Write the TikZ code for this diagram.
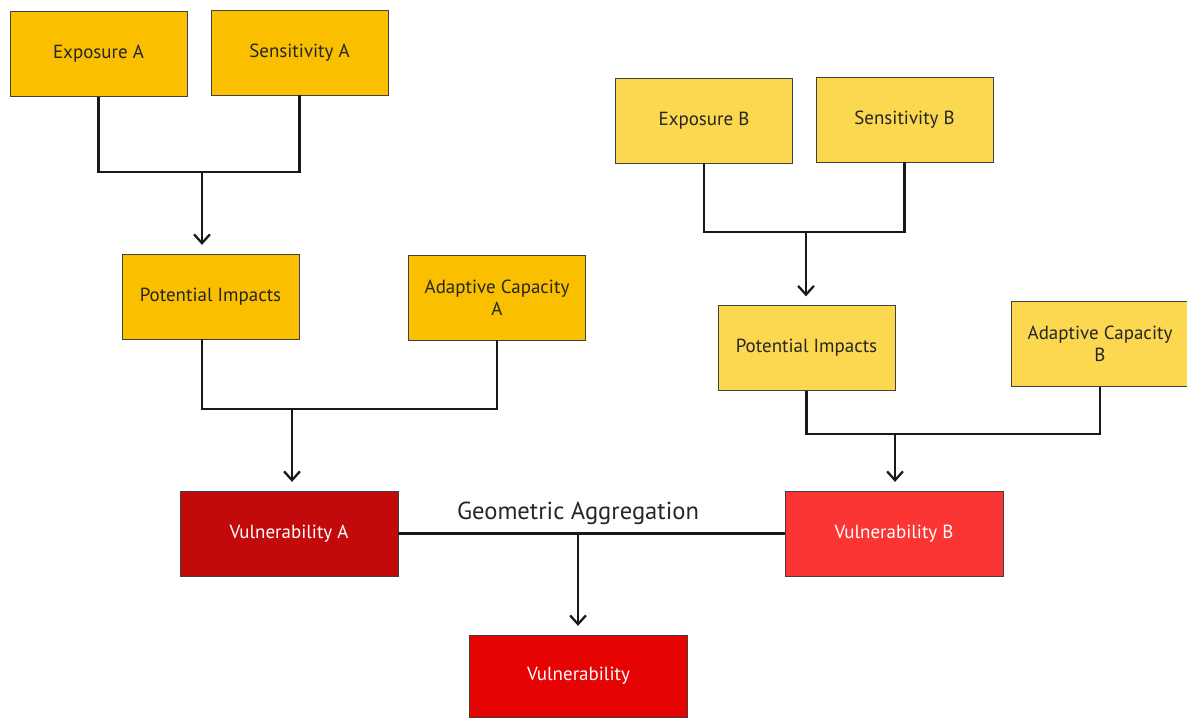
\documentclass[tikz,border=0pt]{standalone}
\usepackage{fontspec}
\setmainfont{PT Sans}
\usepackage{tikz}
\usetikzlibrary{arrows.meta}

\definecolor{ambA}{HTML}{FAC000}
\definecolor{ambB}{HTML}{FBD850}
\definecolor{redA}{HTML}{C30A0A}
\definecolor{redB}{HTML}{FB3434}
\definecolor{redV}{HTML}{E60303}

\tikzset{
	box/.style={shape=rectangle, draw=black!75, thin, minimum width=3.54cm, minimum height=1.7cm, align=center, font=\fontsize{10.8}{12.5}\selectfont},
	boxA/.style={box, fill=ambA, text=black!85},
	boxB/.style={box, fill=ambB, text=black!85},
	vbox/.style={box, minimum width=4.36cm, text=white},
	link/.style={line width=1.4pt, black!90},
	arrow/.style={link, -{Straight Barb[length=5pt, width=9pt, line width=1.3pt]}, shorten >=5pt}
}

\begin{document}
\begin{tikzpicture}[x=0.02cm, y=-0.02cm]
	
	\useasboundingbox (0,0) rectangle (1187,717);
	
	% group A
	\node[boxA] (expA) at (98.5, 54)     {Exposure A};
	\node[boxA] (senA) at (299.5, 52.5)  {Sensitivity A};
	\node[boxA] (potA) at (210.5, 296.5) {Potential Impacts};
	\node[boxA] (adaA) at (497, 297.5)   {Adaptive Capacity\\A};
	
	% group B
	\node[boxB] (expB) at (704, 120.5)   {Exposure B};
	\node[boxB] (senB) at (904.5, 119.5) {Sensitivity B};
	\node[boxB] (potB) at (806.5, 348)   {Potential Impacts};
	\node[boxB] (adaB) at (1100, 344)    {Adaptive Capacity\\B};
	
	% vulnerability
	\node[vbox, fill=redA] (vulA) at (289, 533.5) {Vulnerability A};
	\node[vbox, fill=redB] (vulB) at (894, 533.5) {Vulnerability B};
	\node[vbox, fill=redV, minimum height=1.64cm] (vul) at (578.5, 676) {Vulnerability};
	
	\coordinate (jA1) at (202, 172);
	\coordinate (jA2) at (292, 409);
	\coordinate (jB1) at (806, 232);
	\coordinate (jB2) at (895, 434);
	\coordinate (jV)  at (578, 533.5);
	
	\draw[link] (expA.south) |- (jA1) -| (senA.south);
	\draw[arrow] (jA1) -- (jA1 |- potA.north);
	\draw[link] (potA.south -| jA1) |- (jA2) -| (adaA.south);
	\draw[arrow] (jA2) -- (jA2 |- vulA.north);
	
	\draw[link] (expB.south) |- (jB1) -| (senB.south);
	\draw[arrow] (jB1) -- (jB1 |- potB.north);
	\draw[link] (potB.south) |- (jB2) -| (adaB.south);
	\draw[arrow] (jB2) -- (jB2 |- vulB.north);
	
	\draw[link] (vulA.east) -- (vulB.west);
	\draw[arrow] (jV) -- (jV |- vul.north);
	\node[font=\fontsize{14}{16}\selectfont, text=black!85] (geo) at (578, 513) {Geometric Aggregation};
	
\end{tikzpicture}
\end{document}
